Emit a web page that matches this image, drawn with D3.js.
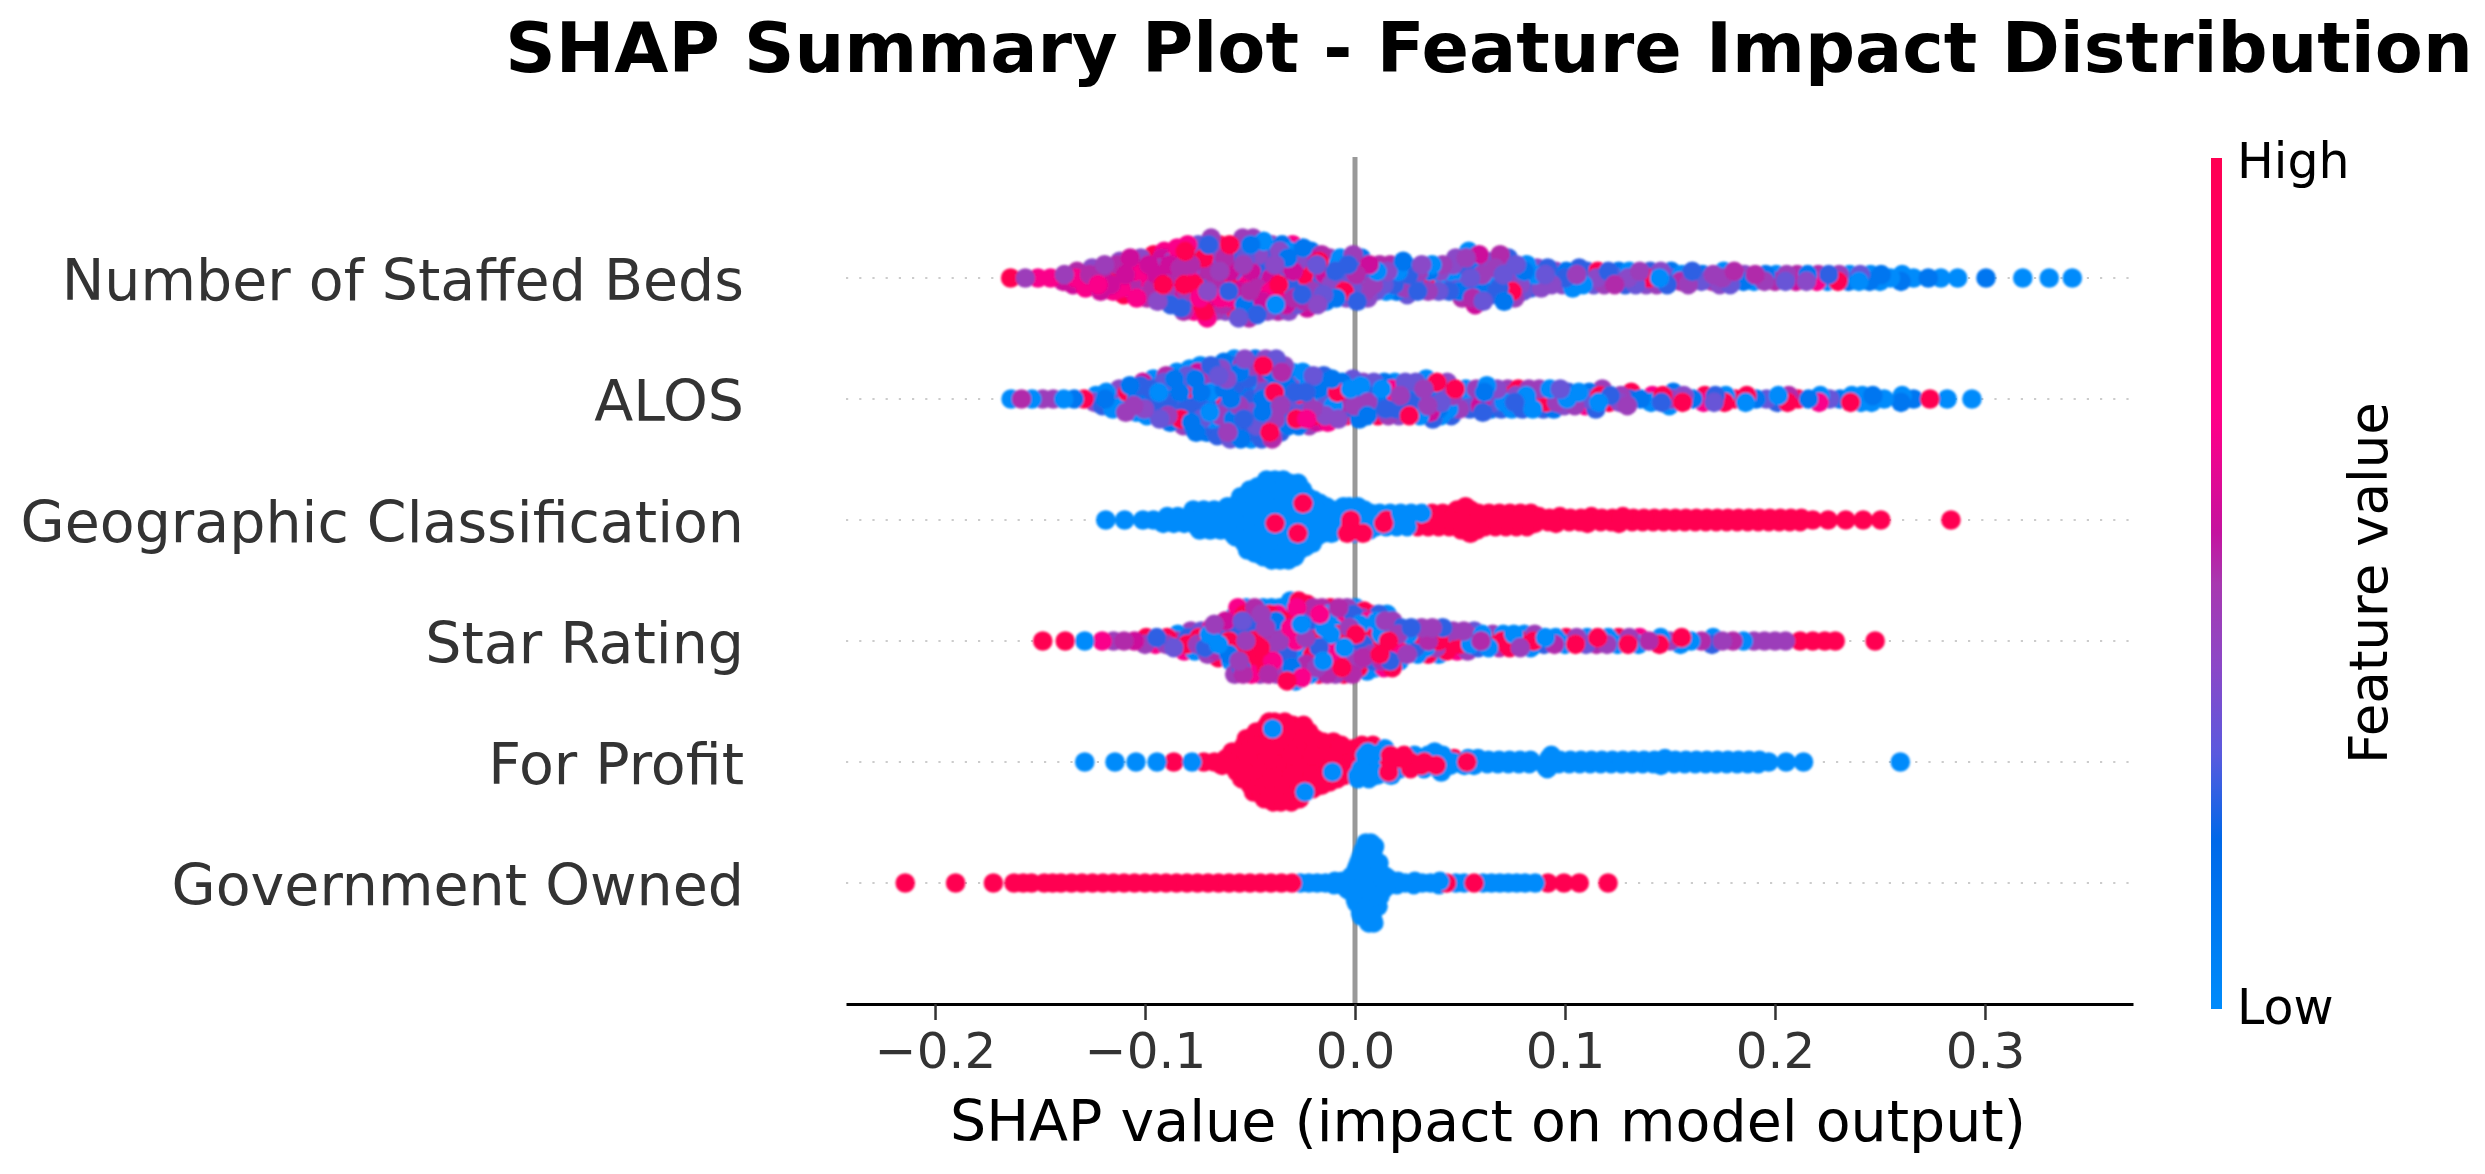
<!DOCTYPE html>
<html>
<head>
<meta charset="utf-8">
<script src="https://cdn.jsdelivr.net/npm/d3@7"></script>
<style>
  html, body { margin: 0; padding: 0; background: #fff; }
  text { font-family: 'DejaVu Sans', sans-serif; }
</style>
</head>
<body>
<div id="chart"></div>
<script>
const title = 'SHAP Summary Plot - Feature Impact Distribution'
const xLabel = 'SHAP value (impact on model output)'
const colorLabel = 'Feature value'
const features = [
  'Number of Staffed Beds',
  'ALOS',
  'Geographic Classification',
  'Star Rating',
  'For Profit',
  'Government Owned',
]
const xTicks = [-0.2, -0.1, 0.0, 0.1, 0.2, 0.3]

// feature value (0 low, 1 high) that each digit in the level strings stands for
const levelValues = [0, 0.12, 0.25, 0.33, 0.4, 0.46, 0.52, 0.58, 0.68, 1]

// each swarm is read off as bins: shap value of the bin, then one digit per
// dot in the bin, stacked from the centre out
const bedsShap = [-0.164, -0.157, -0.151, -0.145, -0.139, -0.133, -0.127, -0.121, -0.115, -0.11, -0.105, -0.1, -0.095, -0.09, -0.085, -0.08, -0.075, -0.07, -0.065, -0.06, -0.055, -0.05, -0.045, -0.04, -0.035, -0.03, -0.025, -0.02, -0.015, -0.01, -0.005, 0, 0.005, 0.01, 0.015, 0.02, 0.025, 0.03, 0.035, 0.04, 0.045, 0.05, 0.055, 0.06, 0.065, 0.07, 0.075, 0.08, 0.085, 0.09, 0.095, 0.1, 0.105, 0.11, 0.115, 0.12, 0.125, 0.13, 0.135, 0.14, 0.145, 0.15, 0.155, 0.16, 0.165, 0.17, 0.175, 0.18, 0.185, 0.19, 0.195, 0.2, 0.205, 0.21, 0.215, 0.22, 0.225, 0.23, 0.235, 0.24, 0.245, 0.25, 0.255, 0.26, 0.266, 0.273, 0.279, 0.287, 0.3005, 0.318, 0.3306, 0.3416]
const bedsLevels = ['9', '5', '8', '8', '75', '867', '9684', '96857', '89768', '978694', '9869578', '8967946', '97658949', '689757482', '9586947628', '48965729486', '75946285938', '5628497362958', '95637284695', '47952683494', '6395728416953', '5782639401756', '396285749120', '75648293054', '62958304716', '47295160384', '5938246071', '629357014', '47203916', '9240351', '1352904', '06318425', '3207514', '20563', '14360', '30251', '425031', '05342', '31905', '24053', '10342', '5032146', '314025607', '25140637', '401523', '53240716', '0413925', '21403', '5024', '1342', '054', '214', '3502', '120', '493', '025', '316', '402', '153', '924', '045', '312', '60', '425', '31', '65', '504', '263', '14', '06', '51', '60', '35', '76', '41', '86', '02', '95', '10', '03', '10', '01', '0', '10', '0', '1', '0', '0', '1', '0', '0', '0']

const alosShap = [-0.1638, -0.1588, -0.1538, -0.1487, -0.1437, -0.1387, -0.1337, -0.129, -0.124, -0.119, -0.114, -0.109, -0.104, -0.099, -0.094, -0.089, -0.084, -0.079, -0.074, -0.069, -0.064, -0.059, -0.054, -0.049, -0.044, -0.039, -0.034, -0.029, -0.024, -0.019, -0.014, -0.009, -0.004, 0.001, 0.006, 0.011, 0.016, 0.021, 0.026, 0.031, 0.036, 0.041, 0.046, 0.051, 0.056, 0.061, 0.066, 0.071, 0.076, 0.081, 0.086, 0.091, 0.096, 0.101, 0.106, 0.111, 0.116, 0.121, 0.126, 0.131, 0.136, 0.141, 0.146, 0.151, 0.156, 0.161, 0.166, 0.171, 0.176, 0.181, 0.186, 0.191, 0.196, 0.201, 0.206, 0.211, 0.216, 0.221, 0.226, 0.231, 0.236, 0.241, 0.246, 0.252, 0.26, 0.266, 0.2738, 0.282, 0.2938]
const alosLevels = ['0', '6', '0', '5', '5', '0', '1', '9', '40', '102', '0104', '29015', '10520', '014207', '1021403', '20105316', '013021905', '1029401320', '01250137201', '10230104521', '092150130421', '1032041012503', '0150302106241', '2010421035210', '1304105629042', '0921305140936', '30512096142', '420531901', '925031805', '40519273', '93504182', '2905314', '692091', '2950931', '528414', '194093', '092851', '952140', '205093', '412503', '0251702', '301409', '250924', '1250', '3025', '51702', '3014', '0925', '2409', '1025', '3905', '9420', '5213', '024', '905', '318', '0925', '92', '45', '295', '1', '08', '29', '510', '94', '1', '89', '32', '90', '9', '09', '1', '3', '20', '96', '9', '1', '80', '3', '1', '90', '00', '01', '0', '10', '1', '9', '0', '0']

const geoShap = [-0.1187, -0.1097, -0.101, -0.096, -0.09, -0.085, -0.08, -0.075, -0.07, -0.065, -0.06, -0.056, -0.053, -0.05, -0.047, -0.044, -0.041, -0.037, -0.033, -0.029, -0.025, -0.021, -0.017, -0.013, -0.009, -0.005, -0.002, 0.002, 0.006, 0.01, 0.015, 0.02, 0.025, 0.03, 0.035, 0.04, 0.045, 0.05, 0.0533, 0.057, 0.062, 0.067, 0.072, 0.077, 0.082, 0.087, 0.092, 0.097, 0.102, 0.107, 0.112, 0.117, 0.122, 0.127, 0.132, 0.137, 0.142, 0.147, 0.152, 0.157, 0.162, 0.167, 0.172, 0.177, 0.182, 0.187, 0.192, 0.197, 0.202, 0.207, 0.212, 0.218, 0.2253, 0.2337, 0.242, 0.2504, 0.2838]
const geoLevels = ['0', '0', '0', '0', '000', '000', '000', '0000000', '0000000', '0000000', '000000000', '00000000000', '000000000000000', '0000000000000000000', '000000000000000000000', '00000000000000000000000', '0000000000000000000000000', '0090000000000000000000000', '0000000000000000000000000', '00000000900000000000000', '0000000009000000000', '000000000000000', '00000000000', '000000000', '0000000', '000000009', '900090000', '000000009', '0000000', '00000', '90900', '99900', '99900', '99909', '99999', '99999', '99999', '9999999', '999999999', '9999999', '99999', '99999', '99999', '99999', '99999', '999', '99', '999', '99', '99', '999', '99', '99', '999', '99', '99', '99', '99', '99', '99', '99', '99', '99', '99', '99', '99', '99', '99', '99', '99', '99', '9', '9', '9', '9', '9', '9']

const starShap = [-0.1487, -0.138, -0.1287, -0.1204, -0.115, -0.11, -0.105, -0.1, -0.095, -0.09, -0.085, -0.08, -0.075, -0.07, -0.065, -0.06, -0.056, -0.052, -0.048, -0.044, -0.04, -0.036, -0.032, -0.028, -0.024, -0.02, -0.016, -0.012, -0.008, -0.004, 0, 0.004, 0.008, 0.012, 0.016, 0.02, 0.025, 0.03, 0.035, 0.04, 0.045, 0.05, 0.055, 0.06, 0.065, 0.07, 0.075, 0.08, 0.085, 0.09, 0.095, 0.1, 0.105, 0.11, 0.115, 0.12, 0.125, 0.13, 0.135, 0.14, 0.145, 0.15, 0.155, 0.16, 0.165, 0.17, 0.175, 0.18, 0.185, 0.19, 0.195, 0.2, 0.205, 0.212, 0.218, 0.2237, 0.2287, 0.2477]
const starLevels = ['9', '9', '0', '8', '5', '6', '7', '59', '82', '59', '603', '9285', '5903', '90285', '096295', '9085170', '70920950285', '50928309506', '96080295068', '60950285905', '90560289506', '50920168905', '9508296010509', '8095092068590', '950920690589', '09509280560', '59209508069', '90802950196', '09528060965', '95050829059', '09502852906', '2905609509', '092058290', '509590628', '906805209', '0582950', '90925', '09250', '69059', '90520', '2095', '9085', '0953', '602', '950', '906', '009', '905', '950', '20', '60', '09', '95', '30', '69', '50', '09', '95', '08', '6', '90', '5', '09', '0', '6', '20', '5', '6', '0', '5', '5', '5', '5', '9', '9', '9', '9', '9']

const profitShap = [-0.1287, -0.1143, -0.1043, -0.0943, -0.0863, -0.0776, -0.072, -0.0669, -0.062, -0.0569, -0.053, -0.0502, -0.047, -0.0436, -0.04, -0.0369, -0.032, -0.0268, -0.022, -0.0168, -0.0118, -0.0068, -0.0001, 0.003, 0.0082, 0.015, 0.0216, 0.0266, 0.033, 0.04, 0.0466, 0.0533, 0.058, 0.063, 0.068, 0.073, 0.078, 0.083, 0.0917, 0.097, 0.102, 0.107, 0.112, 0.117, 0.122, 0.127, 0.132, 0.137, 0.142, 0.147, 0.152, 0.157, 0.162, 0.167, 0.172, 0.177, 0.182, 0.187, 0.192, 0.197, 0.2053, 0.2136, 0.2597]
const profitLevels = ['0', '0', '0', '0', '9', '0', '9', '9', '999', '9999999', '99999999999', '999999999999999', '9999999999999999999', '99999999999999999999999', '9999999999999999999099999', '9999999999999999999999999', '9999999999999999999999999', '99999999999999999999999', '9999999999999999990', '999999999999999', '9999990999999', '99999999999', '999999990', '99900909090', '90990099090', '900990900', '09090', '90009', '90900', '0090000', '090', '900', '000', '00', '00', '00', '00', '00', '00000', '00', '00', '00', '00', '00', '00', '00', '00', '00', '00', '000', '00', '00', '00', '00', '00', '00', '00', '00', '00', '0', '0', '0', '0']

const govShap = [-0.2142, -0.1902, -0.1722, -0.1624, -0.158, -0.154, -0.148, -0.144, -0.14, -0.135, -0.13, -0.125, -0.12, -0.115, -0.11, -0.105, -0.1, -0.095, -0.09, -0.085, -0.08, -0.075, -0.07, -0.065, -0.06, -0.055, -0.05, -0.045, -0.04, -0.035, -0.03, -0.026, -0.022, -0.018, -0.014, -0.01, -0.0065, -0.0033, 0.001, 0.0035, 0.0058, 0.0082, 0.0105, 0.0135, 0.0161, 0.02, 0.024, 0.028, 0.032, 0.036, 0.04, 0.0436, 0.048, 0.052, 0.0567, 0.061, 0.065, 0.069, 0.073, 0.077, 0.081, 0.0858, 0.0919, 0.0995, 0.1068, 0.1205]
const govLevels = ['9', '9', '9', '9', '9', '9', '9', '9', '9', '9', '9', '9', '9', '9', '9', '9', '9', '9', '9', '9', '9', '9', '9', '9', '9', '9', '9', '9', '9', '9', '9', '0', '0', '0', '0', '00', '00', '00000', '0000000000000', '000000000000000000000', '0000000000000000000000000', '0000000000000000000000000', '000000000000000', '00000', '000', '00', '0', '00', '0', '0', '00', '9', '0', '0', '9', '0', '0', '0', '0', '0', '0', '0', '9', '9', '9', '9']

const swarms = [
  [bedsShap, bedsLevels],
  [alosShap, alosLevels],
  [geoShap, geoLevels],
  [starShap, starLevels],
  [profitShap, profitLevels],
  [govShap, govLevels],
]

const width = 2485
const height = 1174
const dotRadius = 9.8
const swarmHalfHeight = 0.33 // in rows
const binWidth = 0.005

const svg = d3
  .select('#chart')
  .append('svg')
  .attr('width', width)
  .attr('height', height)
  .attr('viewBox', `0 0 ${width} ${height}`)
  .style('display', 'block')

svg
  .append('defs')
  .append('filter')
  .attr('id', 'soften')
  .append('feGaussianBlur')
  .attr('stdDeviation', 0.8)

const xScale = d3.scaleLinear().domain([-0.2424, 0.3705]).range([846, 2133])
const yScale = d3.scaleLinear().domain([-1, features.length]).range([1004, 157])
const rowPos = i => features.length - 1 - i

// shap's red-blue map as it looks on the colour bar
const colorScale = d3
  .scaleLinear()
  .domain([0, 0.2, 0.3, 0.4, 0.5, 0.56, 0.69, 1])
  .range(['#008bfb', '#0068e8', '#5a5ade', '#8a48c8', '#a838b0', '#c4129f', '#ff0088', '#ff0051'])

svg
  .append('text')
  .attr('x', 1489)
  .attr('y', 72)
  .attr('text-anchor', 'middle')
  .attr('font-size', 70)
  .attr('font-weight', 'bold')
  .attr('fill', '#000')
  .text(title)

// dotted row guides
svg
  .append('g')
  .selectAll('line')
  .data(features)
  .join('line')
  .attr('x1', xScale.range()[0])
  .attr('x2', xScale.range()[1])
  .attr('y1', (d, i) => yScale(rowPos(i)))
  .attr('y2', (d, i) => yScale(rowPos(i)))
  .attr('stroke', '#cccccc')
  .attr('stroke-width', 2.2)
  .attr('stroke-dasharray', '2.2 11')

// zero line
svg
  .append('line')
  .attr('x1', xScale(0))
  .attr('x2', xScale(0))
  .attr('y1', yScale.range()[1])
  .attr('y2', yScale.range()[0])
  .attr('stroke', '#999999')
  .attr('stroke-width', 5)

function swarmPoints([shaps, levels], row) {
  const maxLayer = d3.max(levels, s => Math.ceil((s.length - 1) / 2))
  const points = []
  levels.forEach((dots, j) => {
    const gap = j < shaps.length - 1 ? shaps[j + 1] - shaps[j] : binWidth
    const spread = Math.min(binWidth, gap)
    const chars = Array.from(dots)
    const common = d3.mode(chars)
    // an even bin has one layer more above, so it is moved back half a layer
    const centring = chars.length % 2 === 0 ? 0.5 : 0
    chars.forEach((level, i) => {
      // same idea as shap's beeswarm: layers alternate up and down per bin
      const layer = Math.ceil(i / 2) * ((i % 2) * 2 - 1) - centring
      const offset = i === 0 ? 0 : (((i * 0.618) % 1) - 0.5) * spread
      points.push({
        shap: shaps[j] + offset,
        pos: rowPos(row) + (layer / maxLayer) * swarmHalfHeight,
        value: levelValues[+level],
        raised: chars.length >= 5 && level !== common ? 1 : 0,
      })
    })
  })
  return points
}

// dots of a row are laid down in scattered order, not bin by bin,
// with the odd ones out of a bin kept visible
swarms.forEach((swarm, row) => {
  const points = swarmPoints(swarm, row)
    .map((d, k) => ({ ...d, order: (k * 7919) % 10007 }))
    .sort((a, b) => a.raised - b.raised || a.order - b.order)
  svg
    .append('g')
    .attr('filter', 'url(#soften)')
    .selectAll('circle')
    .data(points)
    .join('circle')
    .attr('cx', d => xScale(d.shap))
    .attr('cy', d => yScale(d.pos))
    .attr('r', dotRadius)
    .attr('fill', d => colorScale(d.value))
})

// feature labels
svg
  .append('g')
  .selectAll('text')
  .data(features)
  .join('text')
  .attr('x', 744)
  .attr('y', (d, i) => yScale(rowPos(i)) + 22)
  .attr('text-anchor', 'end')
  .attr('font-size', 57)
  .attr('fill', '#333333')
  .text(d => d)

// x axis
const xAxis = d3
  .axisBottom(xScale)
  .tickValues(xTicks)
  .tickFormat(d3.format('.1f'))
  .tickSizeOuter(0)
  .tickSizeInner(16)
  .tickPadding(12)

const axisG = svg
  .append('g')
  .attr('transform', `translate(0, ${yScale.range()[0]})`)
  .call(xAxis)
axisG.select('.domain').attr('stroke', '#000').attr('stroke-width', 3)
axisG.selectAll('.tick line').attr('stroke', '#333333').attr('stroke-width', 2.5)
axisG
  .selectAll('.tick text')
  .attr('font-size', 50)
  .attr('font-family', "'DejaVu Sans', sans-serif")
  .attr('fill', '#333333')

svg
  .append('text')
  .attr('x', 1488)
  .attr('y', 1141)
  .attr('text-anchor', 'middle')
  .attr('font-size', 57)
  .attr('fill', '#000')
  .text(xLabel)

// colour bar
const gradient = svg
  .append('defs')
  .append('linearGradient')
  .attr('id', 'featureGradient')
  .attr('x1', 0)
  .attr('x2', 0)
  .attr('y1', 1)
  .attr('y2', 0)
gradient
  .selectAll('stop')
  .data(d3.range(0, 1.001, 0.02))
  .join('stop')
  .attr('offset', d => d)
  .attr('stop-color', d => colorScale(d))

svg
  .append('rect')
  .attr('x', 2211)
  .attr('y', 158)
  .attr('width', 11)
  .attr('height', 851)
  .attr('fill', 'url(#featureGradient)')

svg
  .append('text')
  .attr('x', 2237)
  .attr('y', 178)
  .attr('font-size', 49)
  .attr('fill', '#000')
  .text('High')
svg
  .append('text')
  .attr('x', 2237)
  .attr('y', 1024)
  .attr('font-size', 49)
  .attr('fill', '#000')
  .text('Low')
svg
  .append('text')
  .attr('transform', 'translate(2387, 583) rotate(-90)')
  .attr('text-anchor', 'middle')
  .attr('font-size', 53)
  .attr('fill', '#000')
  .text(colorLabel)
</script>
</body>
</html>
